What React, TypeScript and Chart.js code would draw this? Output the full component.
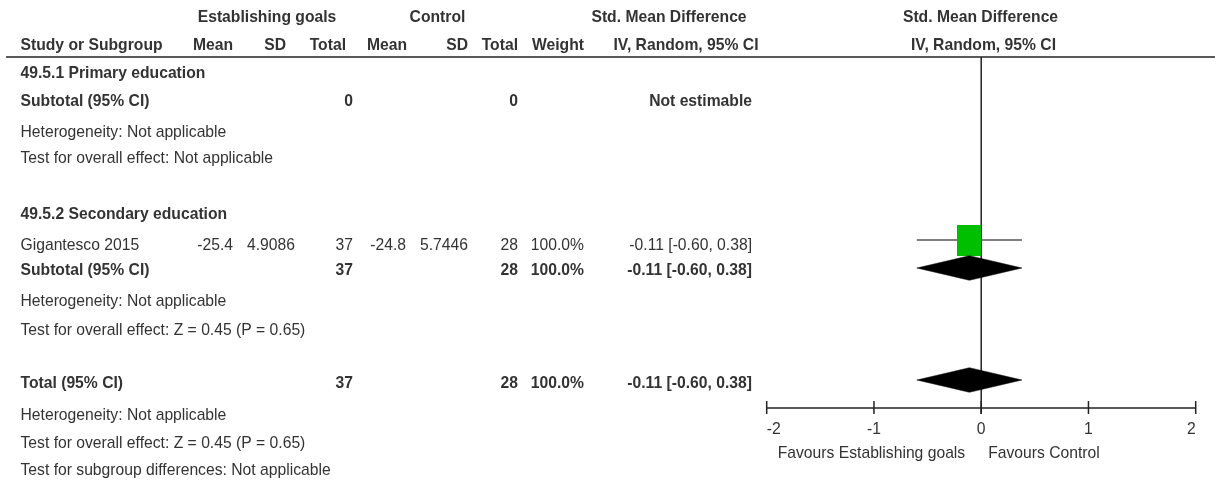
import React, { useEffect, useRef } from "react";
import { Chart, registerables } from "chart.js";

Chart.register(...registerables);

// ---------------- data ----------------
const groupLabels = ["Establishing goals", "Control"];
const effectTitle = ["Std. Mean Difference", "IV, Random, 95% CI"];
const columnHeaders = ["Study or Subgroup", "Mean", "SD", "Total", "Mean", "SD", "Total", "Weight"];

const subgroupNames = ["49.5.1 Primary education", "49.5.2 Secondary education"];
const subgroupExpTotals = [0, 37];
const subgroupCtrlTotals = [0, 28];
const subgroupWeights: (number | null)[] = [null, 100];
const subgroupEffects: (number | null)[] = [null, -0.11];
const subgroupLows: (number | null)[] = [null, -0.6];
const subgroupHighs: (number | null)[] = [null, 0.38];
const subgroupHeterogeneity = ["Not applicable", "Not applicable"];
const subgroupOverall = ["Not applicable", "Z = 0.45 (P = 0.65)"];

const studyNames = ["Gigantesco 2015"];
const studySubgroup = [1];
const studyExpMeans = [-25.4];
const studyExpSDs = [4.9086];
const studyExpTotals = [37];
const studyCtrlMeans = [-24.8];
const studyCtrlSDs = [5.7446];
const studyCtrlTotals = [28];
const studyWeights = [100];
const studyEffects = [-0.11];
const studyLows = [-0.6];
const studyHighs = [0.38];

const totalCounts = [37, 28];
const totalWeight = 100;
const totalEffect = [-0.11, -0.6, 0.38];
const totalNotes = [
  "Heterogeneity: Not applicable",
  "Test for overall effect: Z = 0.45 (P = 0.65)",
  "Test for subgroup differences: Not applicable",
];

const axisTicks = [-2, -1, 0, 1, 2];
const favoursLabels = ["Favours Establishing goals", "Favours Control"];

// ---------------- layout (pixels) ----------------
const W = 1215;
const H = 485;
const FONT = '"Liberation Sans", Arial, Helvetica, sans-serif';
const FS = 15.7;
const TEXT = "#333333";

const COLX = {
  name: 20.5,
  expMean: 233,
  expSD: 295,
  expTotal: 353,
  ctrlMean: 406,
  ctrlSD: 468,
  ctrlTotal: 518,
  weight: 584,
  ci: 752,
};
const HEADX = [20.5, 233, 286, 346, 407, 468, 518, 584];
const GROUPX = [267, 437.5];
const EFFECT_HEAD_X = 669;
const EFFECT_HEAD2_X = 686;
const PLOT_HEAD_X = [980.5, 983.5];

const ROWY = {
  head1: 17.5,
  head2: 46,
  rule: 57,
  title: [74, 215],
  studies: [246],
  subtotal: [102, 271],
  het: [132.5, 302],
  overall: [159, 331],
  total: 384,
  notes: [416, 444, 471],
};
const MARKY = {
  studies: [240],
  subtotal: [null, 268] as (number | null)[],
  total: 380,
};
const AXIS_Y = 408;
const TICK_TOP = 401;
const TICK_BOTTOM = 414;
const TICK_LABEL_Y = 430;
const FAVOURS_Y = 453.5;
const DIAMOND_HALF = 12.3;
const SQUARE_W = 24;
const SQUARE_H = 31;

const fmt2 = (v: number) => v.toFixed(2);
const ciText = (e: number, l: number, h: number) => `${fmt2(e)} [${fmt2(l)}, ${fmt2(h)}]`;
const pct = (w: number) => `${w.toFixed(1)}%`;

function diamond(e: number, l: number, h: number, y: number) {
  return [
    { x: l, y },
    { x: e, y: y - DIAMOND_HALF },
    { x: h, y },
    { x: e, y: y + DIAMOND_HALF },
    { x: l, y },
  ];
}

export default function App() {
  const ref = useRef<HTMLCanvasElement>(null);

  useEffect(() => {
    const canvas = ref.current;
    if (!canvas) return;

    const square = document.createElement("canvas");
    square.width = SQUARE_W;
    square.height = SQUARE_H;
    const sctx = square.getContext("2d")!;
    sctx.fillStyle = "#00bf00";
    sctx.fillRect(0, 0, SQUARE_W, SQUARE_H);

    const datasets: any[] = [];
    studyNames.forEach((_, i) => {
      const y = MARKY.studies[i];
      datasets.push({
        data: [
          { x: studyLows[i], y },
          { x: studyHighs[i], y },
        ],
        borderColor: "#555555",
        borderWidth: 1.5,
        pointRadius: 0,
        fill: false,
        order: 3,
      });
      datasets.push({
        data: [{ x: studyEffects[i], y }],
        showLine: false,
        pointStyle: square,
        pointRadius: 12,
        order: 2,
      });
    });
    subgroupNames.forEach((_, g) => {
      const e = subgroupEffects[g];
      const l = subgroupLows[g];
      const h = subgroupHighs[g];
      const y = MARKY.subtotal[g];
      if (e === null || l === null || h === null || y === null) return;
      datasets.push({
        data: diamond(e, l, h, y),
        borderColor: "#000000",
        borderWidth: 0.5,
        backgroundColor: "#000000",
        pointRadius: 0,
        fill: "shape",
        order: 1,
      });
    });
    datasets.push({
      data: diamond(totalEffect[0], totalEffect[1], totalEffect[2], MARKY.total),
      borderColor: "#000000",
      borderWidth: 0.5,
      backgroundColor: "#000000",
      pointRadius: 0,
      fill: "shape",
      order: 1,
    });

    const forestPlugin = {
      id: "forest",
      beforeDatasetsDraw(chart: any) {
        const ctx = chart.ctx as CanvasRenderingContext2D;
        const xs = chart.scales.x;
        const ys = chart.scales.y;
        ctx.save();
        ctx.strokeStyle = "#222222";
        ctx.lineWidth = 1.5;
        // header rule
        ctx.beginPath();
        ctx.moveTo(6, ys.getPixelForValue(ROWY.rule));
        ctx.lineTo(W, ys.getPixelForValue(ROWY.rule));
        ctx.stroke();
        // zero line
        const x0 = xs.getPixelForValue(0);
        ctx.beginPath();
        ctx.moveTo(x0, ys.getPixelForValue(ROWY.rule));
        ctx.lineTo(x0, ys.getPixelForValue(TICK_BOTTOM));
        ctx.stroke();
        ctx.restore();
      },
      afterDraw(chart: any) {
        const ctx = chart.ctx as CanvasRenderingContext2D;
        const xs = chart.scales.x;
        const ys = chart.scales.y;
        const Y = (v: number) => ys.getPixelForValue(v);
        const t = (s: string, x: number, y: number, align: CanvasTextAlign, bold = false) => {
          ctx.font = `${bold ? "bold " : ""}${FS}px ${FONT}`;
          ctx.textAlign = align;
          ctx.fillText(s, x, Y(y));
        };
        ctx.save();
        ctx.fillStyle = TEXT;
        ctx.textBaseline = "middle";

        // headers
        t(groupLabels[0], GROUPX[0], ROWY.head1, "center", true);
        t(groupLabels[1], GROUPX[1], ROWY.head1, "center", true);
        t(effectTitle[0], EFFECT_HEAD_X, ROWY.head1, "center", true);
        t(effectTitle[0], PLOT_HEAD_X[0], ROWY.head1, "center", true);
        columnHeaders.forEach((h, i) => t(h, HEADX[i], ROWY.head2, i === 0 ? "left" : "right", true));
        t(effectTitle[1], EFFECT_HEAD2_X, ROWY.head2, "center", true);
        t(effectTitle[1], PLOT_HEAD_X[1], ROWY.head2, "center", true);

        // subgroups
        subgroupNames.forEach((name, g) => {
          t(name, COLX.name, ROWY.title[g], "left", true);
          studyNames.forEach((sn, i) => {
            if (studySubgroup[i] !== g) return;
            const y = ROWY.studies[i];
            t(sn, COLX.name, y, "left");
            t(String(studyExpMeans[i]), COLX.expMean, y, "right");
            t(String(studyExpSDs[i]), COLX.expSD, y, "right");
            t(String(studyExpTotals[i]), COLX.expTotal, y, "right");
            t(String(studyCtrlMeans[i]), COLX.ctrlMean, y, "right");
            t(String(studyCtrlSDs[i]), COLX.ctrlSD, y, "right");
            t(String(studyCtrlTotals[i]), COLX.ctrlTotal, y, "right");
            t(pct(studyWeights[i]), COLX.weight, y, "right");
            t(ciText(studyEffects[i], studyLows[i], studyHighs[i]), COLX.ci, y, "right");
          });
          const ys2 = ROWY.subtotal[g];
          t("Subtotal (95% CI)", COLX.name, ys2, "left", true);
          t(String(subgroupExpTotals[g]), COLX.expTotal, ys2, "right", true);
          t(String(subgroupCtrlTotals[g]), COLX.ctrlTotal, ys2, "right", true);
          const w = subgroupWeights[g];
          if (w !== null) t(pct(w), COLX.weight, ys2, "right", true);
          const e = subgroupEffects[g];
          const l = subgroupLows[g];
          const h = subgroupHighs[g];
          if (e !== null && l !== null && h !== null) t(ciText(e, l, h), COLX.ci, ys2, "right", true);
          else t("Not estimable", COLX.ci, ys2, "right", true);
          t(`Heterogeneity: ${subgroupHeterogeneity[g]}`, COLX.name, ROWY.het[g], "left");
          t(`Test for overall effect: ${subgroupOverall[g]}`, COLX.name, ROWY.overall[g], "left");
        });

        // total
        t("Total (95% CI)", COLX.name, ROWY.total, "left", true);
        t(String(totalCounts[0]), COLX.expTotal, ROWY.total, "right", true);
        t(String(totalCounts[1]), COLX.ctrlTotal, ROWY.total, "right", true);
        t(pct(totalWeight), COLX.weight, ROWY.total, "right", true);
        t(ciText(totalEffect[0], totalEffect[1], totalEffect[2]), COLX.ci, ROWY.total, "right", true);
        totalNotes.forEach((n, i) => t(n, COLX.name, ROWY.notes[i], "left"));

        // axis
        ctx.strokeStyle = "#222222";
        ctx.lineWidth = 1.5;
        const xa = xs.getPixelForValue(axisTicks[0]);
        const xb = xs.getPixelForValue(axisTicks[axisTicks.length - 1]);
        ctx.beginPath();
        ctx.moveTo(xa, Y(AXIS_Y));
        ctx.lineTo(xb, Y(AXIS_Y));
        ctx.stroke();
        axisTicks.forEach((v, i) => {
          const px = xs.getPixelForValue(v);
          ctx.beginPath();
          ctx.moveTo(px, Y(TICK_TOP));
          ctx.lineTo(px, Y(TICK_BOTTOM));
          ctx.stroke();
          const align: CanvasTextAlign = i === 0 ? "left" : i === axisTicks.length - 1 ? "right" : "center";
          t(String(v), px, TICK_LABEL_Y, align);
        });
        const x0 = xs.getPixelForValue(0);
        t(favoursLabels[0], x0 - 16, FAVOURS_Y, "right");
        t(favoursLabels[1], x0 + 7, FAVOURS_Y, "left");
        ctx.restore();
      },
    };

    const chart = new Chart(canvas, {
      type: "line",
      data: { datasets },
      options: {
        animation: false,
        responsive: false,
        events: [],
        layout: { autoPadding: false, padding: { left: 766.7, right: 19.3, top: 0, bottom: H - AXIS_Y } },
        scales: {
          x: { type: "linear", min: axisTicks[0], max: axisTicks[axisTicks.length - 1], display: false },
          y: { type: "linear", min: 0, max: AXIS_Y, reverse: true, display: false },
        },
        plugins: { legend: { display: false }, tooltip: { enabled: false } },
      },
      plugins: [forestPlugin],
    } as any);

    return () => chart.destroy();
  }, []);

  return (
    <div style={{ position: "absolute", left: 0, top: 0, width: W, height: H, background: "#fff" }}>
      <canvas ref={ref} width={W} height={H} />
    </div>
  );
}
